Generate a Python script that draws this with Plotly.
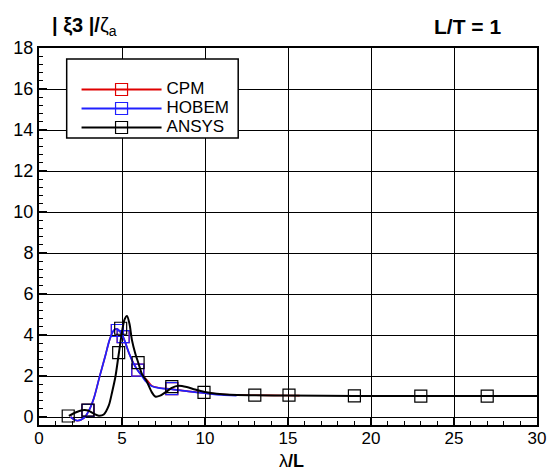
import plotly.graph_objects as go

# ANSYS: smooth response curve and its symbol points
ansys_x = [1.8, 2.2, 2.6, 2.95, 3.3, 3.6, 3.9, 4.2, 4.4, 4.6, 4.8, 5.0, 5.15, 5.3, 5.45,
           5.6, 5.8, 6.0, 6.2, 6.45, 6.8, 7.0, 7.3, 7.7, 8.0, 8.4, 8.9, 9.4, 10.0, 10.7,
           11.5, 13.0, 15.0, 19.0, 23.0, 27.0, 30.0]
ansys_y = [0.05, 0.22, 0.33, 0.32, 0.16, 0.06, 0.12, 0.55, 1.2, 1.95, 3.05, 4.15, 4.75, 4.93, 4.55,
           3.75, 3.1, 2.6, 2.1, 1.8, 1.2, 1.0, 1.04, 1.25, 1.42, 1.52, 1.46, 1.34, 1.22, 1.13,
           1.08, 1.06, 1.05, 1.03, 1.02, 1.02, 1.02]
ansys_mx = [1.76, 2.95, 4.8, 4.92, 5.97, 8.0, 9.94, 13.0, 15.06, 19.0, 23.0, 27.0]
ansys_my = [0.05, 0.34, 3.14, 4.33, 2.65, 1.48, 1.2, 1.07, 1.07, 1.03, 1.02, 1.02]

# HOBEM
hobem_x = [1.9, 2.3, 2.7, 3.0, 3.3, 3.65, 4.0, 4.25, 4.5, 4.7, 4.9, 5.1, 5.43, 5.7, 5.93,
           6.2, 6.45, 6.8, 7.2, 8.0, 9.0, 10.0, 11.0, 11.9]
hobem_y = [0.0, -0.18, -0.05, 0.3, 0.9, 1.97, 3.0, 3.76, 4.22, 4.3, 4.15, 3.85, 3.1, 2.6, 2.29,
           2.0, 1.72, 1.5, 1.42, 1.35, 1.25, 1.16, 1.08, 1.04]
hobem_mx = [2.95, 4.72, 5.07, 5.95, 8.0]
hobem_my = [0.32, 4.22, 3.92, 2.29, 1.38]

# CPM
cpm_x = [1.9, 2.3, 2.7, 3.0, 3.3, 3.65, 4.0, 4.25, 4.5, 4.7, 4.9, 5.1, 5.43, 5.7, 5.93,
         6.2, 6.5, 6.8, 7.2, 8.0, 9.0, 10.0, 10.7, 11.5, 13.0, 15.0, 15.7]
cpm_y = [0.0, -0.18, -0.05, 0.3, 0.9, 1.97, 3.0, 3.76, 4.22, 4.3, 4.15, 3.85, 3.1, 2.62, 2.3,
         2.02, 1.8, 1.52, 1.43, 1.36, 1.25, 1.17, 1.12, 1.08, 1.06, 1.05, 1.045]
cpm_mx = [2.95, 4.72, 5.07, 5.95, 8.0]
cpm_my = [0.32, 4.22, 3.92, 2.29, 1.38]

x_ticks = [0, 5, 10, 15, 20, 25, 30]
y_ticks = [0, 2, 4, 6, 8, 10, 12, 14, 16, 18]

series = [
    ("CPM", "#e00000", 1.6, cpm_x, cpm_y, cpm_mx, cpm_my),
    ("HOBEM", "#2020ff", 1.8, hobem_x, hobem_y, hobem_mx, hobem_my),
    ("ANSYS", "#000000", 2.0, ansys_x, ansys_y, ansys_mx, ansys_my),
]

fig = go.Figure()
for name, color, lw, lx, ly, mx, my in series:
    fig.add_trace(go.Scatter(
        x=lx, y=ly, mode="lines", line=dict(color=color, width=lw, shape="spline", smoothing=0.8),
        showlegend=False, hoverinfo="skip"))
    fig.add_trace(go.Scatter(
        x=mx, y=my, mode="markers", showlegend=False,
        marker=dict(symbol="square-open", size=12, color=color, line=dict(width=1.2, color=color))))
    # legend entry: line with symbol
    fig.add_trace(go.Scatter(
        x=[None], y=[None], mode="lines+markers",
        name=f'<span style="font-size:17px">{name}</span>',
        line=dict(color=color, width=1.8),
        marker=dict(symbol="square-open", size=12, color=color, line=dict(width=1.2, color=color))))

axis_common = dict(
    showline=True, linecolor="black", linewidth=2, mirror=True,
    showgrid=True, gridcolor="black", gridwidth=1, zeroline=False,
    ticks="inside", ticklen=8, tickwidth=1.5, tickcolor="black",
)

fig.update_xaxes(
    range=[0, 30], tickvals=x_ticks, ticktext=[str(v) for v in x_ticks],
    tickfont=dict(family="Liberation Sans, Arial", size=17, color="black"),
    ticklabelstandoff=-3,
    minor=dict(dtick=1, ticks="inside", ticklen=4, tickcolor="black", tickwidth=1, showgrid=False),
    **axis_common)
fig.update_yaxes(
    range=[-0.39, 18], tickvals=y_ticks, ticktext=[str(v) for v in y_ticks],
    tickfont=dict(family="Liberation Sans, Arial", size=18, color="black"),
    minor=dict(dtick=0.4, tick0=0, ticks="inside", ticklen=4, tickcolor="black", tickwidth=1, showgrid=False),
    **axis_common)

# legend frame (opaque, covers grid behind the legend)
fig.add_shape(type="rect", xref="paper", yref="paper",
              x0=0.0556, x1=0.40, y0=0.761, y1=0.971,
              line=dict(color="black", width=1.5), fillcolor="white", layer="above")

fig.update_layout(
    width=558, height=472,
    margin=dict(l=39, r=15, t=48, b=47),
    paper_bgcolor="white", plot_bgcolor="white",
    font=dict(family="Liberation Sans, Arial", color="black"),
    legend=dict(
        x=0.0754, y=0.9284, xanchor="left", yanchor="top",
        bgcolor="rgba(0,0,0,0)", borderwidth=0,
        font=dict(size=12, color="black"), itemwidth=80,
    ),
    annotations=[
        dict(text="<b>| ξ3 |/</b>ζ<sub>a</sub>", xref="paper", yref="paper", x=0.0218, y=1.058,
             xanchor="left", yanchor="middle", showarrow=False, font=dict(size=20)),
        dict(text="<b>L/T = 1</b>", xref="paper", yref="paper", x=0.9325, y=1.056,
             xanchor="right", yanchor="middle", showarrow=False, font=dict(size=21)),
        dict(text="λ<b>/L</b>", xref="paper", yref="paper", x=0.508, y=-0.1236,
             xanchor="center", yanchor="bottom", showarrow=False, borderpad=0,
             font=dict(size=18)),
    ],
)

fig.write_html("out.html")
